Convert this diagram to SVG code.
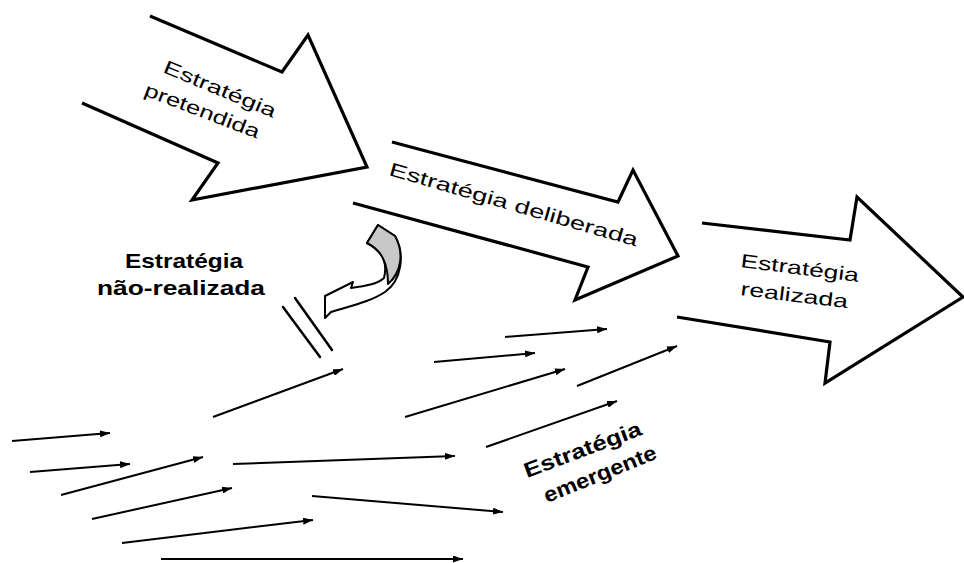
<svg xmlns="http://www.w3.org/2000/svg" width="964" height="563" viewBox="0 0 964 563">
  <style>
    .big { fill: #ffffff; stroke: #000000; stroke-width: 3.2; stroke-linejoin: miter; }
    .lbl { font-family: "Liberation Sans", Arial, sans-serif; fill: #000000; }
    .reg { font-size: 19px; font-weight: normal; }
    .bold { font-size: 21px; font-weight: bold; }
    .flow { stroke: #000000; stroke-width: 2; fill: none; marker-end: url(#head); }
    .cut { stroke: #000000; stroke-width: 2.5; fill: none; stroke-linecap: round; }
  </style>
  <defs>
    <marker id="head" markerUnits="userSpaceOnUse" markerWidth="10" markerHeight="7" refX="10" refY="3.5" orient="auto">
      <path d="M0,0 L10,3.5 L0,7 Z" fill="#000000"/>
    </marker>
  </defs>
  <rect width="964" height="563" fill="#ffffff"/>

  <!-- Intended strategy -->
  <g id="intended">
    <path class="big" d="M150,16 L282,72 L308,35 L367,167 L192,200 L218,163 L82,103"/>
    <text class="lbl reg" transform="translate(162,72) rotate(22.5)" textLength="120" lengthAdjust="spacingAndGlyphs">Estratégia</text>
    <text class="lbl reg" transform="translate(143,95) rotate(21)" textLength="122" lengthAdjust="spacingAndGlyphs">pretendida</text>
  </g>

  <!-- Deliberate strategy -->
  <g id="deliberate">
    <path class="big" d="M392,142 L618,202 L633,170 L678,256 L575,300 L588,267 L353,203"/>
    <text class="lbl reg" transform="translate(388,175) rotate(16.1)" textLength="258" lengthAdjust="spacingAndGlyphs">Estratégia deliberada</text>
  </g>

  <!-- Realized strategy -->
  <g id="realized">
    <path class="big" d="M702,223 L850,240 L857,197 L963,297 L825,383 L830,342 L677,317"/>
    <text class="lbl reg" font-size="18" transform="translate(740,267) rotate(7.2)" textLength="119" lengthAdjust="spacingAndGlyphs">Estratégia</text>
    <text class="lbl reg" font-size="18" transform="translate(740,295) rotate(7)" textLength="108" lengthAdjust="spacingAndGlyphs">realizada</text>
  </g>

  <!-- Unrealized strategy: label, curled arrow and cut-off mark -->
  <g id="unrealized">
    <text class="lbl bold" x="125" y="268" textLength="118" lengthAdjust="spacingAndGlyphs">Estratégia</text>
    <text class="lbl bold" x="97" y="295" textLength="168" lengthAdjust="spacingAndGlyphs">não-realizada</text>
    <path d="M378,225 L395,236 C405,255 402,280 385,292 C370,302 350,306 331,312 L325,318 L325,296 L353,282 L351,288 C365,286 378,284 384,278 C388,262 381,250 367,243 Z" fill="#ffffff" stroke="#000000" stroke-width="2" stroke-linejoin="round"/>
    <path d="M378,225 L395,236 C404,252 402,272 388,284 C388,262 381,250 367,243 Z" fill="#c8c8c8" stroke="#000000" stroke-width="2" stroke-linejoin="round"/>
    <path class="cut" d="M283,307 L320,357"/>
    <path class="cut" d="M295,298 L332,350"/>
  </g>

  <!-- Emergent strategy label -->
  <g id="emergent">
    <text class="lbl bold" font-size="21" transform="translate(527,478) rotate(-20.5)" textLength="124" lengthAdjust="spacingAndGlyphs">Estratégia</text>
    <text class="lbl bold" font-size="21" transform="translate(547,503) rotate(-22)" textLength="120" lengthAdjust="spacingAndGlyphs">emergente</text>
  </g>

  <!-- Emergent action arrows -->
  <g id="connectors">
    <line class="flow" x1="12" y1="441" x2="110" y2="433"/>
    <line class="flow" x1="30" y1="472" x2="130" y2="464"/>
    <line class="flow" x1="61" y1="495" x2="203" y2="457"/>
    <line class="flow" x1="92" y1="519" x2="232" y2="488"/>
    <line class="flow" x1="122" y1="543" x2="313" y2="520"/>
    <line class="flow" x1="161" y1="559" x2="463" y2="559"/>
    <line class="flow" x1="213" y1="417" x2="343" y2="369"/>
    <line class="flow" x1="233" y1="464" x2="455" y2="456"/>
    <line class="flow" x1="312" y1="496" x2="503" y2="512"/>
    <line class="flow" x1="505" y1="337" x2="607" y2="329"/>
    <line class="flow" x1="434" y1="362" x2="535" y2="353"/>
    <line class="flow" x1="405" y1="417" x2="565" y2="369"/>
    <line class="flow" x1="577" y1="386" x2="677" y2="346"/>
    <line class="flow" x1="486" y1="447" x2="617" y2="401"/>
  </g>
</svg>
